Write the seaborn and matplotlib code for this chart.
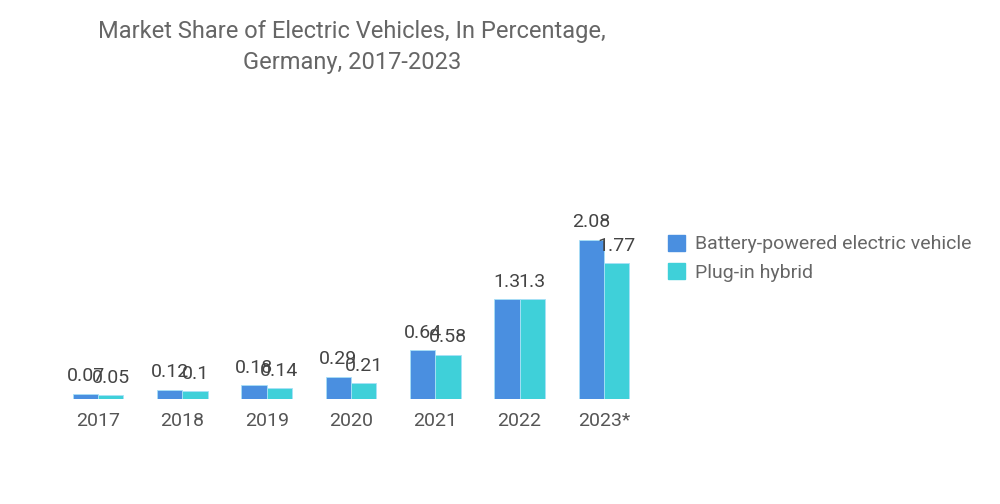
import pandas as pd
import seaborn as sns
import matplotlib
matplotlib.use("Agg")
import matplotlib.pyplot as plt
from matplotlib.patches import Patch

years = ["2017", "2018", "2019", "2020", "2021", "2022", "2023*"]
bev = [0.07, 0.12, 0.18, 0.29, 0.64, 1.3, 2.08]
phev = [0.05, 0.1, 0.14, 0.21, 0.58, 1.3, 1.77]
series = ["Battery-powered electric vehicle", "Plug-in hybrid"]
colors = ["#4A8FE0", "#3FD0D9"]

df = pd.DataFrame({
    "year": years * 2,
    "share": bev + phev,
    "type": [series[0]] * len(years) + [series[1]] * len(years),
})

sns.set_theme(style="white")
plt.rcParams['font.family'] = ['Roboto', 'DejaVu Sans']

fig = plt.figure(figsize=(10, 5.04), dpi=100)
ax = fig.add_axes([0.056, 0.2083, 0.59, 0.593])

sns.barplot(data=df, x="year", y="share", hue="type", palette=colors,
            saturation=1, width=0.6, ax=ax, legend=False,
            edgecolor="#a8e0f7", linewidth=0.6)

# value labels over every bar (they overlap in the original too)
for cont in ax.containers:
    ax.bar_label(cont, labels=[f"{v:g}" for v in cont.datavalues],
                 padding=6, fontsize=14, color="#444444")

ax.set_ylim(0, 3.9)
ax.set_xlim(-0.5, 6.5)
ax.set_xlabel("")
ax.set_ylabel("")
ax.set_yticks([])
for s in ax.spines.values():
    s.set_visible(False)
ax.tick_params(axis="x", length=0, pad=9, labelsize=14, labelcolor="#555555")

fig.text(0.352, 0.937, "Market Share of Electric Vehicles, In Percentage,",
         ha="center", va="center", fontsize=17, color="#666666")
fig.text(0.352, 0.876, "Germany, 2017-2023",
         ha="center", va="center", fontsize=17, color="#666666")

handles = [Patch(facecolor=c, edgecolor=c) for c in colors]
fig.legend(handles, series, loc="upper left", bbox_to_anchor=(0.66, 0.55),
           frameon=False, fontsize=14, handlelength=0.9, handleheight=0.9,
           handletextpad=0.5, labelspacing=0.5, borderaxespad=0,
           labelcolor="#666666")

fig.savefig("out.png", dpi=100)
